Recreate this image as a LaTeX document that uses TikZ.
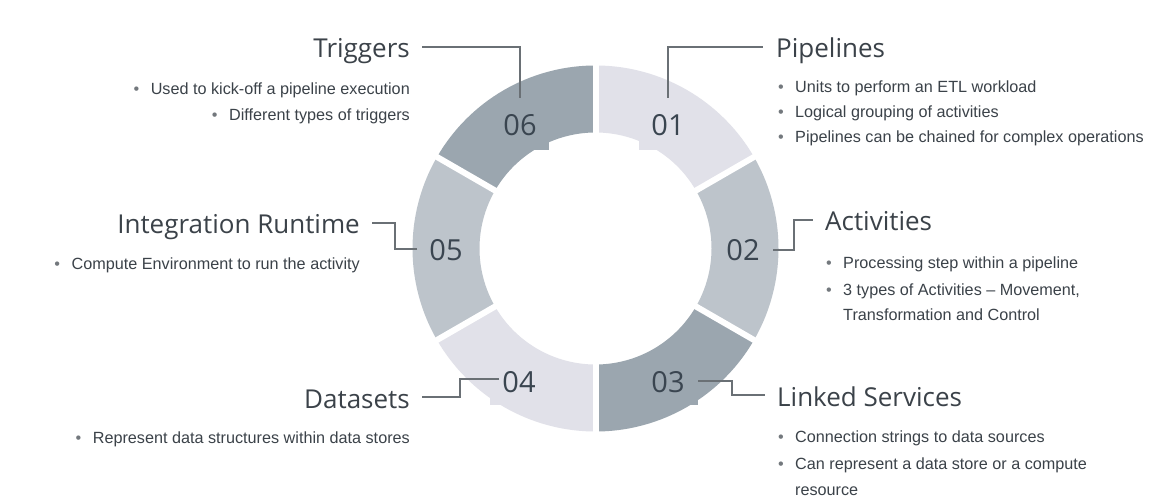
\documentclass[tikz,border=0pt]{standalone}
\usepackage{fontspec}
\setmainfont{Liberation Sans}
\newfontfamily\titlefont{Open Sans}
\usetikzlibrary{calc}
\definecolor{segL}{HTML}{E1E1E9}
\definecolor{segM}{HTML}{BDC4CB}
\definecolor{segD}{HTML}{9BA6AF}
\definecolor{txt}{HTML}{3B4249}
\definecolor{numc}{HTML}{3A4550}
\definecolor{linec}{HTML}{6A7075}
\definecolor{bulc}{HTML}{73787D}
\newcommand{\bdot}{\llap{\textcolor{bulc}{\textbullet}\hspace{11.5pt}}}
\begin{document}
\begin{tikzpicture}[x=1pt,y=1pt,
  numtxt/.style={font=\titlefont\fontsize{29}{29}\selectfont, text=numc, inner sep=0pt},
  titleR/.style={font=\titlefont\fontsize{26}{26}\selectfont, text=txt, inner sep=0pt, text height=22pt, text depth=0pt, anchor=west},
  titleL/.style={titleR, anchor=east},
  bulR/.style={font=\fontsize{16.2}{16.2}\selectfont, text=txt, inner sep=0pt, anchor=base west},
  bulL/.style={bulR, anchor=base east},
  conn/.style={draw=linec, line width=1.1pt},
  gapline/.style={draw=white, line width=6pt}]

\useasboundingbox (0,0) rectangle (1164,-502);
\fill[white] (0,0) rectangle (1164,-502);

% ring segments
\begin{scope}[shift={(595.5,-248.5)}]
  \fill[segL] (30:183) arc[start angle=30,end angle=90,radius=183] -- (90:116) arc[start angle=90,end angle=30,radius=116] -- cycle;
  \fill[segM] (-30:183) arc[start angle=-30,end angle=30,radius=183] -- (30:116) arc[start angle=30,end angle=-30,radius=116] -- cycle;
  \fill[segD] (-90:183) arc[start angle=-90,end angle=-30,radius=183] -- (-30:116) arc[start angle=-30,end angle=-90,radius=116] -- cycle;
  \fill[segL] (210:183) arc[start angle=210,end angle=270,radius=183] -- (270:116) arc[start angle=270,end angle=210,radius=116] -- cycle;
  \fill[segM] (150:183) arc[start angle=150,end angle=210,radius=183] -- (210:116) arc[start angle=210,end angle=150,radius=116] -- cycle;
  \fill[segD] (90:183) arc[start angle=90,end angle=150,radius=183] -- (150:116) arc[start angle=150,end angle=90,radius=116] -- cycle;
\end{scope}
% number boxes
\fill[segD] (491,-100) rectangle (549,-150);
\fill[segL] (639,-100) rectangle (697,-150);
\fill[segL] (490,-359) rectangle (548,-405);
\fill[segD] (640,-359) rectangle (698,-405);
% gaps
\begin{scope}[shift={(595.5,-248.5)}]
  \foreach \a in {30,90,150,210,270,330} \draw[gapline] (\a:100) -- (\a:195);
\end{scope}

% numbers
\node[numtxt] (n1) at (668,-125) {01};
\node[numtxt] (n2) at (743,-250) {02};
\node[numtxt] (n3) at (668,-382) {03};
\node[numtxt] (n4) at (519,-382) {04};
\node[numtxt] (n5) at (446,-250) {05};
\node[numtxt] (n6) at (520,-125) {06};

% titles
\node[titleR] (t1) at (776,-47) {Pipelines};
\node[titleR] (t2) at (825,-220) {Activities};
\node[titleR] (t3) at (777,-395) {Linked Services};
\node[titleL] (t4) at (410,-397) {Datasets};
\node[titleL] (t5) at (360,-223) {Integration Runtime};
\node[titleL] (t6) at (410,-47) {Triggers};

% connector anchor points
\coordinate (c1) at (668,-98);
\coordinate (c6) at (520,-98);
\coordinate (c2) at (773,-250);
\coordinate (k2) at (794,-220);
\coordinate (c3) at (698,-381);
\coordinate (k3) at (732,-395);
\coordinate (c4) at (499,-379);
\coordinate (k4) at (460,-397);
\coordinate (c5) at (417,-249);
\coordinate (k5) at (395,-223);

\draw[conn] (c1) |- ([xshift=-13pt]t1.west);
\draw[conn] (c6) |- ([xshift=12pt]t6.east);
\draw[conn] (c2) -| (k2) -- ([xshift=-12pt]t2.west);
\draw[conn] (c3) -| (k3) -- ([xshift=-12pt]t3.west);
\draw[conn] (c4) -| (k4) -- ([xshift=12pt]t4.east);
\draw[conn] (c5) -| (k5) -- ([xshift=12pt]t5.east);

% bullets
\node[bulR] (b11) at (795,-92.5) {\bdot Units to perform an ETL workload};
\node[bulR] (b12) at (795,-117.5) {\bdot Logical grouping of activities};
\node[bulR] (b13) at (795,-142.5) {\bdot Pipelines can be chained for complex operations};

\node[bulR] (b21) at (843,-269) {\bdot Processing step within a pipeline};
\node[bulR] (b22) at (843,-296) {\bdot 3 types of Activities – Movement,};
\node[bulR] (b23) at (843,-321) {Transformation and Control};

\node[bulR] (b31) at (795,-442) {\bdot Connection strings to data sources};
\node[bulR] (b32) at (795,-469) {\bdot Can represent a data store or a compute};
\node[bulR] (b33) at (795,-495) {resource};

\node[bulL] (b41) at (410,-443) {\bdot Represent data structures within data stores};
\node[bulL] (b51) at (360,-270) {\bdot Compute Environment to run the activity};
\node[bulL] (b61) at (410,-95) {\bdot Used to kick-off a pipeline execution};
\node[bulL] (b62) at (410,-121) {\bdot Different types of triggers};
\end{tikzpicture}
\end{document}
